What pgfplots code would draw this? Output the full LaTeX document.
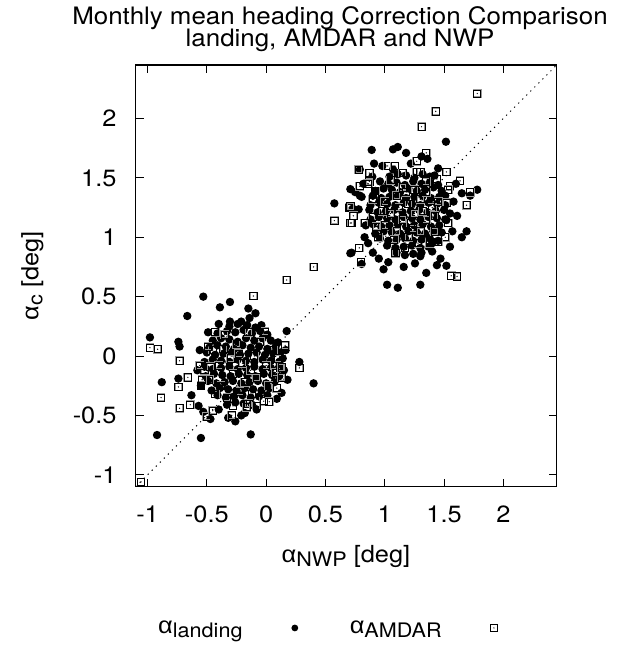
\documentclass[border=0pt]{standalone}
\usepackage{pgfplots}
\pgfplotsset{compat=1.18}
\usepackage{fontspec}
\setmainfont{TeX Gyre Heros}[FakeStretch=1.08]
\newfontfamily\gr{Liberation Sans}[FakeStretch=1.08]
\newcommand\al{{\gr α}}
\newcommand\sub[1]{\raisebox{-4pt}{\fontsize{20}{22}\selectfont #1}}
\newcommand\fnt{\fontsize{23.5}{26}\selectfont}
\newcommand\tfnt{\fontsize{24}{21.8}\selectfont}
\pgfdeclareplotmark{landdot}{\pgfpathcircle{\pgfpointorigin}{\pgfplotmarksize}\pgfsetfillcolor{black}\pgfusepathqfill}
\pgfdeclareplotmark{amdar}{%
  \pgfsetlinewidth{1.6pt}\pgfsetstrokecolor{black!40}%
  \pgfpathrectangle{\pgfpoint{-\pgfplotmarksize}{-\pgfplotmarksize}}{\pgfpoint{2\pgfplotmarksize}{2\pgfplotmarksize}}\pgfusepathqstroke
  \pgfsetlinewidth{0.8pt}\pgfsetstrokecolor{black}%
  \pgfpathrectangle{\pgfpoint{-\pgfplotmarksize}{-\pgfplotmarksize}}{\pgfpoint{2\pgfplotmarksize}{2\pgfplotmarksize}}\pgfusepathqstroke
  \pgfsetfillcolor{black}\pgfpathcircle{\pgfpointorigin}{0.7pt}\pgfusepathqfill}
\pgfplotsset{mylegimg/.style={legend image code/.code={\draw[##1] plot coordinates {(0pt,0pt)};}}}
\begin{document}
\lineskiplimit=-30pt
\begin{tikzpicture}
\path (0,0) rectangle (624pt,648pt);
\begin{axis}[
  at={(135.7pt,161.3pt)}, anchor=south west,
  scale only axis, width=421pt, height=421.7pt,
  xmin=-1.1, xmax=2.45, ymin=-1.1, ymax=2.45,
  xtick={-1,-0.5,0,0.5,1,1.5,2}, xticklabels={-1,-0.5,0,0.5,1,1.5,2},
  ytick={-1,-0.5,0,0.5,1,1.5,2}, yticklabels={-1,-0.5,0,0.5,1,1.5,2},
  tick align=inside, tick pos=both, major tick length=8pt,
  axis line style={line width=1.2pt},
  every tick/.style={black, line width=1pt},
  tick label style={font=\fnt},
  xticklabel style={anchor=base, inner sep=0pt, yshift=-36pt},
  yticklabel style={anchor=east, inner sep=0pt, xshift=-19pt},
  title={Monthly mean heading Correction Comparison\\landing, AMDAR and NWP},
  title style={at={(axis description cs:0.4853,1.124)}, anchor=north, inner sep=0pt, align=center, font=\tfnt},
  xlabel={\al\sub{NWP} [deg]},
  xlabel style={at={(axis description cs:0.4995,-0.1802)}, anchor=base, inner sep=0pt, font=\fnt},
  ylabel={\al\sub{c} [deg]},
  ylabel style={at={(axis description cs:-0.2309,0.5)}, anchor=base, inner sep=0pt, font=\fnt},
  legend columns=2, legend plot pos=right,
  legend style={at={(axis description cs:0.053,-0.335)}, anchor=west, draw=none, fill=none,
    inner sep=0pt, font=\fnt, nodes={inner sep=0pt},
    /tikz/every odd column/.append style={column sep=48.9pt},
    /tikz/every even column/.append style={column sep=51.6pt}},
]
% diagonal y = x
\addplot[forget plot, black, line width=1pt, dash pattern=on 1.2pt off 4.5pt] coordinates {(-1.1,-1.1) (2.45,2.45)};
% landing, cluster 1
\addplot[forget plot, only marks, mark=landdot, mark size=4.2pt] coordinates {
(-0.53,0.50) (-0.305,0.455) (-0.39,0.41) (-0.665,0.337) (-0.98,0.157) (-0.74,0.12) (-0.73,0.08)
(-0.88,-0.22) (-0.74,-0.19) (-0.63,-0.33) (0.40,-0.23) (0.28,-0.05) (0.173,0.21) (-0.92,-0.665)
(-0.55,-0.69) (-0.13,-0.66) (-0.47,-0.53) (-0.32,-0.52) (-0.26,-0.55) (-0.21,-0.50) (-0.18,-0.48)
(-0.15,0.40) (-0.09,0.36) (-0.305,0.29) (-0.40,0.27) (-0.49,0.20) (-0.21,0.29) (-0.14,0.32)
(-0.04,0.26) (0.10,0.115) (0.165,0.05) (-0.57,-0.42) (-0.53,-0.47) (0.13,-0.31) (0.09,-0.36)
(-0.31,0.25) (-0.24,0.27) (-0.16,0.26) (-0.09,0.24)
(-0.41,0.19) (-0.33,0.21) (-0.26,0.20) (-0.19,0.22) (-0.12,0.19) (-0.05,0.21) (0.01,0.18)
(-0.45,0.13) (-0.38,0.15) (-0.31,0.14) (-0.24,0.12) (-0.17,0.15) (-0.10,0.13) (-0.03,0.15) (0.04,0.13)
(-0.48,0.07) (-0.41,0.09) (-0.34,0.08) (-0.27,0.06) (-0.20,0.09) (-0.13,0.07) (-0.06,0.08) (0.01,0.06) (0.08,0.08)
(-0.50,0.03) (-0.43,0.01) (-0.36,0.02) (-0.29,0.03) (-0.22,0.01) (-0.15,0.02) (-0.08,0.03) (-0.01,0.01) (0.06,0.02) (0.12,0.03)
(-0.52,-0.05) (-0.45,-0.03) (-0.38,-0.04) (-0.31,-0.05) (-0.24,-0.03) (-0.17,-0.04) (-0.10,-0.05) (-0.03,-0.03) (0.04,-0.04) (0.11,-0.05)
(-0.52,-0.09) (-0.45,-0.11) (-0.38,-0.10) (-0.31,-0.09) (-0.24,-0.11) (-0.17,-0.10) (-0.10,-0.09) (-0.03,-0.11) (0.04,-0.10) (0.11,-0.09)
(-0.51,-0.17) (-0.44,-0.15) (-0.37,-0.16) (-0.30,-0.17) (-0.23,-0.15) (-0.16,-0.16) (-0.09,-0.17) (-0.02,-0.15) (0.05,-0.16) (0.11,-0.17)
(-0.49,-0.21) (-0.42,-0.23) (-0.35,-0.22) (-0.28,-0.21) (-0.21,-0.23) (-0.14,-0.22) (-0.07,-0.21) (0.00,-0.23) (0.07,-0.22)
(-0.46,-0.29) (-0.39,-0.27) (-0.32,-0.28) (-0.25,-0.29) (-0.18,-0.27) (-0.11,-0.28) (-0.04,-0.29) (0.03,-0.27)
(-0.41,-0.33) (-0.34,-0.35) (-0.27,-0.34) (-0.20,-0.33) (-0.13,-0.35) (-0.06,-0.34) (0.01,-0.33)
(-0.33,-0.41) (-0.26,-0.39) (-0.19,-0.40) (-0.12,-0.41)
(-0.58,-0.12) (-0.56,0.05) (-0.55,-0.25) (0.15,-0.12) (0.14,-0.02) (0.18,-0.20) (-0.40,-0.45) (-0.08,-0.45)
};
% landing, cluster 2
\addplot[forget plot, only marks, mark=landdot, mark size=4.2pt] coordinates {
(1.516,1.804) (0.89,1.735) (1.07,1.74) (1.11,1.76) (1.18,1.71) (1.31,1.68) (1.36,1.66) (0.79,1.57)
(0.91,1.62) (0.895,1.51) (1.07,1.57) (1.42,1.52) (0.71,1.405) (0.75,1.38) (0.805,1.34) (1.78,1.40)
(1.72,1.35) (1.65,1.37) (0.73,1.24) (0.78,1.235) (1.55,1.20) (1.61,1.18) (1.52,1.145) (1.69,1.05)
(1.65,1.00) (1.55,0.92) (1.47,0.82) (1.44,0.765) (1.52,0.76) (0.71,0.865) (0.805,0.775) (0.90,0.87)
(0.99,0.73) (1.02,0.60) (1.11,0.575) (1.30,0.60) (1.16,0.75) (1.255,0.78) (1.30,0.84) (0.86,0.95)
(1.03,0.79) (0.575,1.285) (0.79,1.35) (0.72,0.87)
(1.04,1.51) (1.11,1.53) (1.18,1.52) (1.25,1.50) (1.32,1.53) (1.38,1.51)
(0.96,1.47) (1.03,1.45) (1.10,1.46) (1.17,1.44) (1.24,1.47) (1.31,1.45) (1.38,1.46) (1.45,1.44)
(0.92,1.39) (0.99,1.41) (1.06,1.40) (1.13,1.38) (1.20,1.41) (1.27,1.39) (1.34,1.40) (1.41,1.42) (1.48,1.39)
(0.90,1.35) (0.97,1.33) (1.04,1.34) (1.11,1.35) (1.18,1.33) (1.25,1.34) (1.32,1.35) (1.39,1.33) (1.46,1.34) (1.51,1.35)
(0.88,1.27) (0.95,1.29) (1.02,1.28) (1.09,1.27) (1.16,1.29) (1.23,1.28) (1.30,1.27) (1.37,1.29) (1.44,1.28) (1.51,1.27)
(0.87,1.23) (0.94,1.21) (1.01,1.22) (1.08,1.23) (1.15,1.21) (1.22,1.22) (1.29,1.23) (1.36,1.21) (1.43,1.22) (1.50,1.23)
(0.88,1.15) (0.95,1.17) (1.02,1.16) (1.09,1.15) (1.16,1.17) (1.23,1.16) (1.30,1.15) (1.37,1.17) (1.44,1.16) (1.51,1.15)
(0.90,1.11) (0.97,1.09) (1.04,1.10) (1.11,1.11) (1.18,1.09) (1.25,1.10) (1.32,1.11) (1.39,1.09) (1.46,1.10)
(0.92,1.03) (0.99,1.05) (1.06,1.04) (1.13,1.03) (1.20,1.05) (1.27,1.04) (1.34,1.03) (1.41,1.05) (1.48,1.04)
(0.96,0.99) (1.03,0.97) (1.10,0.98) (1.17,0.99) (1.24,0.97) (1.31,0.98) (1.38,0.99) (1.45,0.97)
(1.02,0.93) (1.09,0.91) (1.16,0.92) (1.23,0.93) (1.30,0.91) (1.37,0.92)
(1.10,0.87) (1.17,0.85) (1.24,0.86) (1.31,0.87)
(0.82,1.45) (0.84,1.10) (0.83,1.00) (1.58,1.30) (1.57,1.05) (1.40,0.88) (0.98,1.60) (1.22,1.62)
(1.45,1.58) (1.60,1.45) (0.95,0.82) (1.35,0.70) (1.40,0.95)
};
% AMDAR, cluster 1 and between
\addplot[forget plot, only marks, mark=amdar, mark size=3.6pt] coordinates {
(-0.45,0.05) (-0.35,0.18) (-0.25,0.10) (-0.15,0.20) (-0.05,0.12) (0.05,0.05) (-0.40,-0.08) (-0.30,-0.02)
(-0.20,-0.06) (-0.10,0.00) (0.00,-0.08) (0.10,-0.02) (-0.48,-0.20) (-0.38,-0.25) (-0.28,-0.15) (-0.18,-0.22)
(-0.08,-0.18) (0.02,-0.25) (-0.33,-0.35) (-0.22,-0.30) (-0.12,-0.32) (-0.02,-0.38) (-0.52,-0.12) (-0.43,-0.32)
(0.08,-0.14) (-0.23,0.02) (-0.13,-0.12) (-0.36,0.06) (-0.28,-0.42) (-0.15,-0.40) (0.12,-0.10) (-0.55,-0.25)
(0.173,0.64) (-0.108,0.505) (-0.98,0.07) (-0.915,0.057) (-0.73,-0.04) (-0.66,-0.18) (-0.74,-0.26)
(-0.886,-0.35) (-0.73,-0.44) (-0.64,-0.41) (-0.50,-0.51) (-0.45,-0.46) (0.28,-0.10) (0.13,-0.095)
(0.13,-0.18) (0.09,-0.27) (0.026,-0.385) (-0.08,-0.42) (-0.165,-0.43) (-0.29,-0.50) (0.06,0.05)
(0.16,0.09) (-0.43,0.20) (-0.01,0.205) (-0.56,-0.08) (-0.54,-0.20) (-0.49,0.08) (-0.47,-0.09)
(-1.055,-1.06) (0.40,0.75) (0.575,1.14)
};
% AMDAR, cluster 2
\addplot[forget plot, only marks, mark=amdar, mark size=3.6pt] coordinates {
(1.43,2.06) (1.31,1.93) (1.78,2.21) (1.35,1.71) (1.27,1.64) (1.30,1.55) (1.025,1.60) (1.085,1.60)
(0.78,1.57) (0.87,1.54) (0.87,1.47) (1.15,1.54) (1.27,1.55) (1.52,1.55) (1.44,1.49) (1.35,1.47)
(1.635,1.475) (1.55,1.43) (1.535,1.40) (1.72,1.38) (1.69,1.27) (1.52,1.29) (0.79,1.43) (0.86,1.45)
(0.92,1.39) (0.90,1.32) (0.70,1.25) (0.735,1.18) (0.72,1.12) (0.90,1.17) (0.83,1.12) (1.535,1.12)
(1.51,1.00) (1.42,1.05) (1.38,0.95) (1.45,0.96) (1.24,1.075) (1.17,0.91) (1.09,0.865) (0.785,0.91)
(0.80,0.79) (1.56,0.675) (1.61,0.67) (0.93,1.09) (0.945,1.0) (0.71,1.26) (0.71,1.12)
(1.00,1.30) (1.10,1.35) (1.20,1.28) (1.30,1.32) (1.40,1.25) (1.05,1.20) (1.15,1.15) (1.25,1.20)
(1.35,1.15) (1.45,1.30) (1.00,1.10) (1.10,1.05) (1.20,1.00) (1.30,1.05) (1.15,1.42) (1.25,1.40)
(1.35,1.38) (1.05,1.48) (0.98,1.22) (1.42,1.18) (1.28,0.95) (1.12,1.25) (1.22,1.12) (1.32,1.22)
(1.08,0.98) (1.18,1.38)
};
\addlegendimage{mylegimg, mark=landdot, mark size=3.4pt}
\addlegendentry{\al\sub{landing}}
\addlegendimage{mylegimg, mark=amdar, mark size=3.4pt}
\addlegendentry{\al\sub{AMDAR}}
\end{axis}
\end{tikzpicture}
\end{document}
